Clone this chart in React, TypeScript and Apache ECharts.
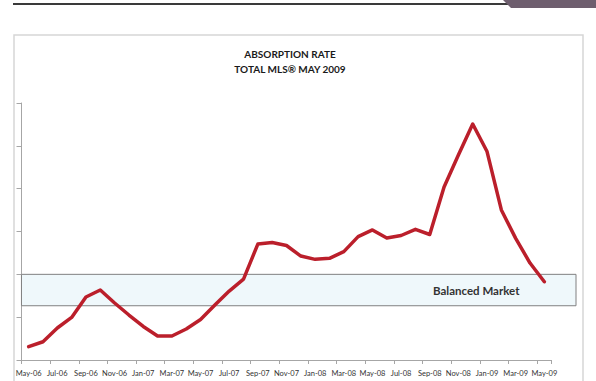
import React, { useEffect, useRef } from 'react';
import * as echarts from 'echarts';

const categories = [
  'May-06', 'Jun-06', 'Jul-06', 'Aug-06', 'Sep-06', 'Oct-06', 'Nov-06', 'Dec-06',
  'Jan-07', 'Feb-07', 'Mar-07', 'Apr-07', 'May-07', 'Jun-07', 'Jul-07', 'Aug-07',
  'Sep-07', 'Oct-07', 'Nov-07', 'Dec-07', 'Jan-08', 'Feb-08', 'Mar-08', 'Apr-08',
  'May-08', 'Jun-08', 'Jul-08', 'Aug-08', 'Sep-08', 'Oct-08', 'Nov-08', 'Dec-08',
  'Jan-09', 'Feb-09', 'Mar-09', 'Apr-09', 'May-09',
];

const absorption = [
  0.93, 1.28, 2.24, 2.98, 4.41, 4.9, 3.99, 3.15,
  2.35, 1.68, 1.68, 2.17, 2.84, 3.85, 4.83, 5.67,
  8.12, 8.23, 8.02, 7.28, 7.05, 7.12, 7.59, 8.64,
  9.11, 8.55, 8.72, 9.15, 8.79, 12.12, 14.36, 16.53,
  14.6, 10.51, 8.52, 6.79, 5.48,
];

const yMin = 0;
const yMax = 18;
const yInterval = 3;
const balancedBand = [3.8, 6];
const titleText = 'ABSORPTION RATE\nTOTAL MLS® MAY 2009';
const bandLabel = 'Balanced Market';

export default function App() {
  const ref = useRef<HTMLDivElement>(null);
  useEffect(() => {
    const chart = echarts.init(ref.current!, null, { renderer: 'svg' });
    chart.setOption({
      animation: false,
      backgroundColor: '#ffffff',
      title: {
        text: titleText,
        left: 285,
        top: 41,
        textAlign: 'center',
        textStyle: {
          fontFamily: 'Lato',
          fontSize: 10,
          fontWeight: 'bold',
          lineHeight: 15,
          color: '#1a1a1a',
        },
      },
      grid: { left: 21.5, right: 44.5, top: 103, bottom: 21 },
      xAxis: {
        type: 'category',
        data: categories,
        boundaryGap: true,
        axisLine: { lineStyle: { color: '#a6a6a6', width: 1 } },
        axisTick: { show: true, interval: 1, length: 4, lineStyle: { color: '#a6a6a6' } },
        axisLabel: {
          interval: 1,
          fontSize: 7.5,
          fontFamily: 'Lato',
          color: '#333333',
          margin: 9,
        },
        splitLine: { show: false },
      },
      yAxis: {
        type: 'value',
        min: yMin,
        max: yMax,
        interval: yInterval,
        axisLine: { show: true, lineStyle: { color: '#a6a6a6', width: 1 } },
        axisTick: { show: true, length: 5, lineStyle: { color: '#a6a6a6' } },
        axisLabel: { show: false },
        splitLine: { show: false },
      },
      series: [
        {
          type: 'line',
          data: absorption,
          symbol: 'none',
          smooth: false,
          z: 5,
          lineStyle: { color: '#bb1f2b', width: 3.5, cap: 'round', join: 'round' },
        },
      ],
    });

    const yTop = chart.convertToPixel({ yAxisIndex: 0 }, balancedBand[1]) as number;
    const yBot = chart.convertToPixel({ yAxisIndex: 0 }, balancedBand[0]) as number;
    const xLeft = chart.convertToPixel({ xAxisIndex: 0 }, categories[0]) as number;

    chart.setOption({
      graphic: [
        {
          type: 'rect',
          z: -10,
          shape: { x: 14, y: 35, width: 569, height: 360 },
          style: { fill: 'none', stroke: '#d6d6d6', lineWidth: 1.5 },
        },
        {
          type: 'line',
          z: -10,
          shape: { x1: 13, y1: 4, x2: 510, y2: 4 },
          style: { stroke: '#3a3a3a', lineWidth: 2 },
        },
        {
          type: 'polygon',
          z: -10,
          shape: { points: [[503, 0], [596, 0], [596, 8], [511, 8]] },
          style: { fill: '#6e5e6e' },
        },
        {
          type: 'rect',
          z: 1,
          shape: { x: xLeft - 7.2, y: yTop, width: 576 - (xLeft - 7.2), height: yBot - yTop },
          style: { fill: '#eff8fb', stroke: '#808080', lineWidth: 1 },
        },
        {
          type: 'text',
          z: 2,
          x: 433,
          y: (yTop + yBot) / 2,
          style: {
            text: bandLabel,
            fontFamily: 'Lato',
            fontSize: 11.5,
            fontWeight: 'bold',
            fill: '#333333',
            verticalAlign: 'middle',
          },
        },
      ],
    });
    return () => chart.dispose();
  }, []);
  return <div ref={ref} style={{ position: 'fixed', left: 0, top: 0, width: 596, height: 381 }} />;
}
